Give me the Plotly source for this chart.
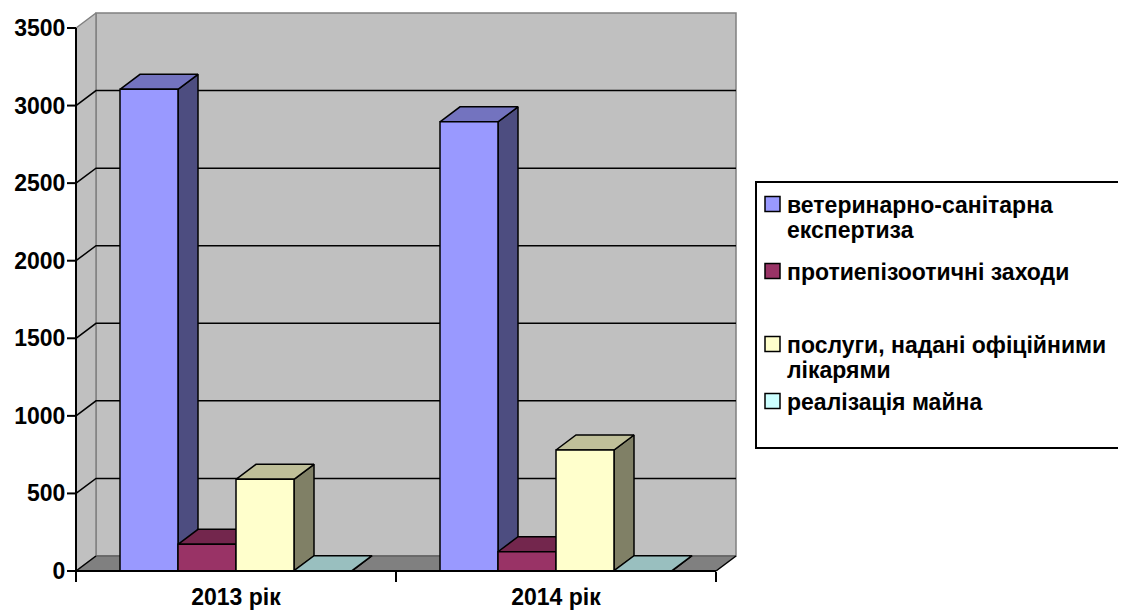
import plotly.graph_objects as go

# ---------------- data ----------------
categories = ["2013 рік", "2014 рік"]
series_names = [
    "ветеринарно-санітарна експертиза",
    "протиепізоотичні заходи",
    "послуги, надані офіційними лікарями",
    "реалізація майна",
]
vet_expertiza = [3105, 2895]
protiepizootychni = [172, 124]
poslugy_likariv = [591, 780]
realizatsiya_mayna = [2, 2]
y_ticks = [0, 500, 1000, 1500, 2000, 2500, 3000, 3500]

series_values = [vet_expertiza, protiepizootychni, poslugy_likariv, realizatsiya_mayna]
front_colors = ["#9999FF", "#993366", "#FFFFCC", "#CCFFFF"]
top_colors = ["#7373BF", "#73264D", "#BFBF99", "#99BFBF"]
side_colors = ["#4D4D80", "#4D1A33", "#808066", "#668080"]

# ---------------- geometry ----------------
# the page body has an 8px margin, so the figure is offset by OFF px
OFF = 8
W, H = 1126 - OFF, 613 - OFF
# plot area in screen pixels
SL, SR, ST, SB = 60, 746, 10, 581
L_M, T_M = SL - OFF, ST - OFF
PW, PH = SR - SL, SB - ST
R_M, B_M = W - L_M - PW, H - T_M - PH
SX0, SY0 = 76, 571            # data origin, screen pixels
BAND_PX = 320
KX = 1.0 / BAND_PX
KY = 3500.0 / 543.0
DX = 20 * KX
DY = 15 * KY
YMAX = 3500
NCAT = len(categories)
GAP = 44 * KX
BW = 58 * KX

xr = [-(SX0 - SL) * KX, (SR - SX0) * KX]
yr = [-(SB - SY0) * KY, (SY0 - ST) * KY]

fig = go.Figure()


def poly(xs, ys, fill, lc="black", lw=1.5):
    fig.add_trace(go.Scatter(
        x=list(xs) + [xs[0]], y=list(ys) + [ys[0]], mode="lines", fill="toself",
        fillcolor=fill, line=dict(color=lc, width=lw), hoverinfo="skip",
        showlegend=False))


def seg(xs, ys, color="black", lw=1.5):
    fig.add_trace(go.Scatter(
        x=xs, y=ys, mode="lines", line=dict(color=color, width=lw),
        hoverinfo="skip", showlegend=False))


# walls
poly([DX, NCAT + DX, NCAT + DX, DX], [DY, DY, YMAX + DY, YMAX + DY], "#C0C0C0", "#808080", 1.5)
poly([0, DX, DX, 0], [0, DY, YMAX + DY, YMAX], "#C0C0C0", "#808080", 1.5)
# floor
poly([0, NCAT, NCAT + DX, DX], [0, 0, DY, DY], "#808080", "#808080", 0.5)
seg([DX, NCAT + DX], [DY, DY], "#606060", 1.5)
seg([NCAT, NCAT + DX], [0, DY], "black", 1.5)
seg([0, DX], [0, DY], "black", 1.5)
# gridlines on walls
for v in y_ticks[1:-1]:
    seg([0, DX, NCAT + DX], [v, v + DY, v + DY], "black", 1.5)

# bars (3D boxes)
nser = len(series_values)
for ci in range(NCAT):
    for si in range(nser):
        v = series_values[si][ci]
        x0 = ci + GAP + si * BW
        x1 = x0 + BW
        poly([x1, x1 + DX, x1 + DX, x1], [0, DY, v + DY, v], side_colors[si])
        poly([x0, x1, x1 + DX, x0 + DX], [v, v, v + DY, v + DY], top_colors[si])
        poly([x0, x1, x1, x0], [0, 0, v, v], front_colors[si])

# axis lines and y tick marks
seg([0, 0], [0, YMAX], "black", 2)
seg([0, NCAT], [0, 0], "black", 2)
tx, ty = [], []
for v in y_ticks:
    tx += [-9 * KX, 0, None]
    ty += [v, v, None]
seg(tx, ty, "black", 2)

font_main = dict(family="Liberation Sans, Arial, sans-serif", size=23, color="black", weight="bold")

fig.update_layout(
    width=W, height=H,
    margin=dict(l=L_M, r=R_M, t=T_M, b=B_M, autoexpand=False),
    paper_bgcolor="white", plot_bgcolor="white",
    showlegend=False,
    xaxis=dict(
        range=xr, anchor="free", position=(SB - SY0) / PH,
        tickmode="array", tickvals=[i + 0.5 for i in range(NCAT)], ticktext=categories,
        ticks="outside", ticklen=5, tickcolor="rgba(0,0,0,0)",
        minor=dict(tickmode="array", tickvals=list(range(NCAT + 1)), ticks="outside",
                   ticklen=10, tickwidth=2, tickcolor="black"),
        showgrid=False, zeroline=False, showline=False, tickfont=font_main,
        automargin=False,
    ),
    yaxis=dict(
        range=yr, anchor="free", position=(SX0 - SL) / PW,
        tickmode="array", tickvals=y_ticks, ticks="outside", ticklen=6, tickwidth=2,
        tickcolor="rgba(0,0,0,0)", showgrid=False, zeroline=False, showline=False,
        tickfont=font_main, automargin=False,
    ),
)

# ---------------- legend (manual, Excel style) ----------------
def pxx(sx):
    return (sx - SL) / PW


def pxy(sy):
    return (SB - sy) / PH


LEG_L, LEG_R, LEG_T, LEG_B = 756, 1130, 182, 448
fig.add_shape(type="rect", xref="paper", yref="paper",
              x0=pxx(LEG_L), x1=pxx(LEG_R), y0=pxy(LEG_B), y1=pxy(LEG_T),
              line=dict(width=0), fillcolor="white", layer="above")
fig.add_shape(type="path", xref="paper", yref="paper", layer="above",
              path=(f"M {pxx(LEG_R)},{pxy(LEG_T)} L {pxx(LEG_L)},{pxy(LEG_T)} "
                    f"L {pxx(LEG_L)},{pxy(LEG_B)} L {pxx(LEG_R)},{pxy(LEG_B)}"),
              line=dict(color="black", width=2))

legend_lines = [
    ["ветеринарно-санітарна", "експертиза"],
    ["протиепізоотичні заходи"],
    ["послуги, надані офіційними", "лікарями"],
    ["реалізація майна"],
]
legend_first_y = [204, 271, 344, 401]
LINE_STEP = 25
leg_font = dict(family="Liberation Sans, Arial, sans-serif", size=23, color="black", weight="bold")
for i, lines in enumerate(legend_lines):
    cy = legend_first_y[i]
    fig.add_shape(type="rect", xref="paper", yref="paper",
                  x0=pxx(765), x1=pxx(780), y0=pxy(cy + 7.5), y1=pxy(cy - 7.5),
                  line=dict(color="black", width=1.5), fillcolor=front_colors[i], layer="above")
    for j, t in enumerate(lines):
        fig.add_annotation(xref="paper", yref="paper", x=pxx(785), y=pxy(cy + 1 + j * LINE_STEP),
                           xanchor="left", yanchor="middle", text=t, showarrow=False,
                           font=leg_font)

fig.write_html("out.html")
